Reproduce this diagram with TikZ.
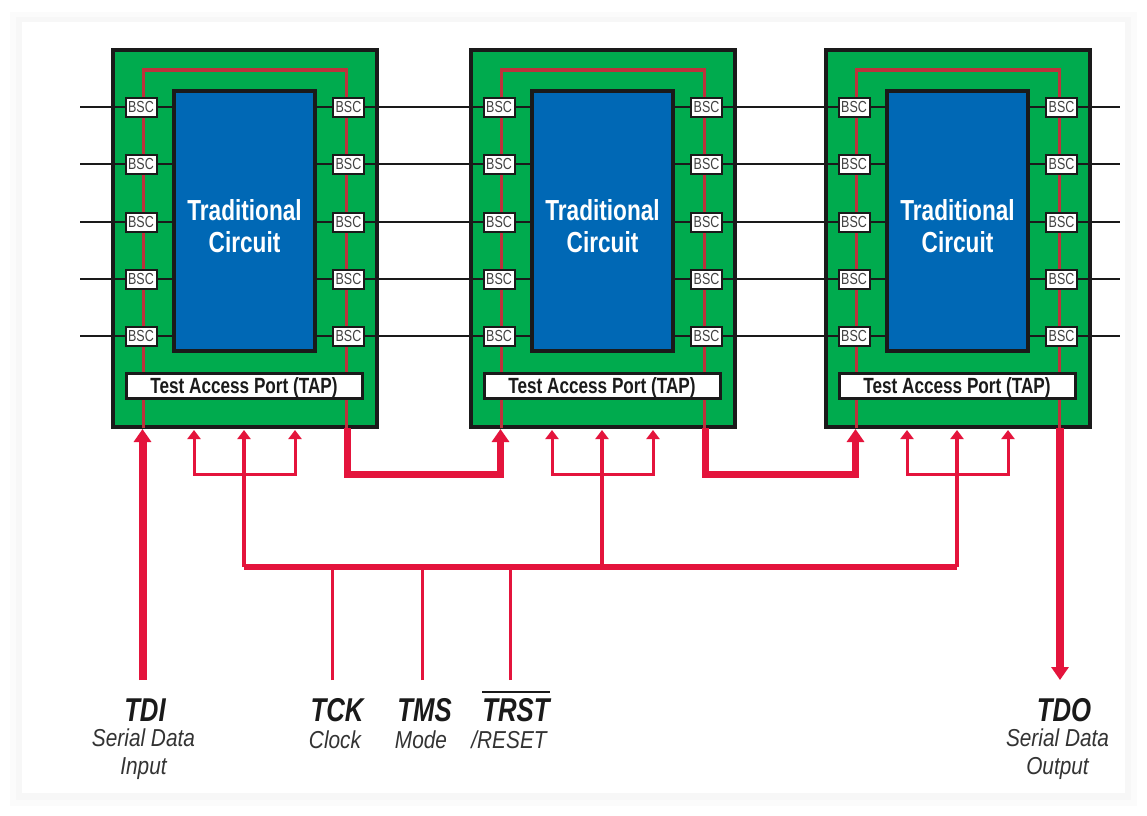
\documentclass[tikz,border=0pt]{standalone}
\usepackage{fontspec}
\setmainfont{Liberation Sans}
\newfontfamily\condfont[FakeStretch=0.78]{Liberation Sans}
\newfontfamily\notefont[FakeStretch=0.85]{Liberation Sans}
\usetikzlibrary{arrows.meta, positioning, calc}
\definecolor{chipgreen}{RGB}{0, 171, 78}
\definecolor{coreblue}{RGB}{0, 104, 181}
\definecolor{sigred}{RGB}{228, 20, 60}
\definecolor{scanred}{RGB}{190, 50, 60}
\definecolor{inkblack}{RGB}{26, 26, 26}

\begin{document}
\begin{tikzpicture}[
  x=1pt, y=-1pt,
  chipbox/.style={draw=inkblack, fill=chipgreen, line width=3.5pt, minimum width=264pt, minimum height=377pt, inner sep=0pt},
  corebox/.style={draw=inkblack, fill=coreblue, line width=3.5pt, minimum width=141pt, minimum height=260pt, inner sep=0pt},
  corelabel/.style={align=center, inner sep=0pt, text=white, font=\condfont\fontsize{29}{32}\selectfont\bfseries},
  bscbox/.style={draw=inkblack, fill=white, line width=2pt, minimum width=31pt, minimum height=19pt, inner sep=0pt, text=black!75, font=\condfont\fontsize{16}{16}\selectfont},
  tapbox/.style={draw=inkblack, fill=white, line width=3pt, minimum width=236pt, minimum height=25pt, inner sep=0pt, text height=18pt, text depth=2.2pt, text=inkblack, font=\condfont\fontsize{22}{22}\selectfont\bfseries},
  wire/.style={draw=inkblack, line width=1.4pt},
  greenwire/.style={draw=inkblack, line width=2.5pt},
  scanline/.style={draw=scanred, line width=3.5pt},
  thicksig/.style={draw=sigred, line width=7pt, -{Triangle[width=17pt,length=13pt]}},
  thinsig/.style={draw=sigred, line width=3pt},
  thintip/.style={{Triangle[width=13pt,length=9pt]}-{Triangle[width=13pt,length=9pt]}},
  onetip/.style={-{Triangle[width=13pt,length=9pt]}},
  pinname/.style={font=\condfont\fontsize{33}{34}\selectfont\bfseries\itshape, text=inkblack, inner sep=0pt},
  pinnote/.style={font=\notefont\fontsize{24.5}{27.5}\selectfont\itshape, text=black!80, align=center, inner sep=0pt}
]
  \useasboundingbox (0,0) rectangle (1147,815);
  \fill[black!1.5] (10,12) rectangle (1137,806);
  \fill[black!3] (16,17) rectangle (1131,800);
  \fill[white] (22,22) rectangle (1125,793);

  \foreach \n/\dx in {A/0, B/358, C/713} {
    \node[chipbox] (chip\n) at ({245+\dx},238.5) {};
    \coordinate (scanbl\n) at ({143.5+\dx},428);
    \coordinate (scantl\n) at ({143.5+\dx},70);
    \coordinate (scantr\n) at ({346.5+\dx},70);
    \coordinate (scanbr\n) at ({346.5+\dx},428);
    \draw[scanline] (scanbl\n) -- (scantl\n) -- (scantr\n) -- (scanbr\n);
    \node[corebox] (core\n) at ({244.5+\dx},221) {};
    \node[corelabel] (label\n) at ({244.5+\dx},226) {Traditional\\Circuit};
    \node[tapbox] (tap\n) at ({244+\dx},386) {Test Access Port (TAP)};
    \foreach \i/\y in {1/107, 2/164, 3/222, 4/279, 5/336} {
      \node[bscbox] (bscL\n\i) at ({141+\dx},\y) {BSC};
      \node[bscbox] (bscR\n\i) at ({348.5+\dx},\y) {BSC};
      \draw[greenwire] (bscL\n\i.east) -- (bscL\n\i.east -| core\n.west);
      \draw[greenwire] (bscR\n\i.west) -- (bscR\n\i.west -| core\n.east);
      \draw[greenwire] (bscL\n\i.west) -- (bscL\n\i.west -| chip\n.west);
      \draw[greenwire] (bscR\n\i.east) -- (bscR\n\i.east -| chip\n.east);
    }
    \coordinate (tdiin\n) at ({142.5+\dx},429);
    \coordinate (tmsin\n) at ({194+\dx},430);
    \coordinate (tckin\n) at ({244+\dx},430);
    \coordinate (trstin\n) at ({295+\dx},430);
    \coordinate (tdoout\n) at ({347+\dx},428);
    \coordinate (fork\n) at ({244+\dx},474);
    \coordinate (bus\n) at ({244+\dx},567);
    \draw[thinsig, thintip] (tmsin\n) |- (fork\n) -| (trstin\n);
    \draw[thinsig, line width=3.5pt, onetip] (bus\n) -- (tckin\n);
  }

  \foreach \i/\y in {1/107, 2/164, 3/222, 4/279, 5/336} {
    \coordinate (stubin\i) at (80,\y);
    \coordinate (stubout\i) at (1120,\y);
    \draw[wire] (stubin\i) -- (bscLA\i.west -| chipA.west);
    \draw[wire] (bscRA\i.east -| chipA.east) -- (bscLB\i.west -| chipB.west);
    \draw[wire] (bscRB\i.east -| chipB.east) -- (bscLC\i.west -| chipC.west);
    \draw[wire] (bscRC\i.east -| chipC.east) -- (stubout\i);
  }

  \draw[thicksig] (tdooutA) |- (tdiinB |- forkA) -- (tdiinB);
  \draw[thicksig] (tdooutB) |- (tdiinC |- forkA) -- (tdiinC);

  \coordinate (tdipin) at (142.5,680);
  \coordinate (tdopin) at (1060,680);
  \coordinate (tckpin) at (332,680);
  \coordinate (tmspin) at (422.5,680);
  \coordinate (trstpin) at (510,680);
  \draw[thicksig, line width=8pt] (tdipin) -- (tdiinA);
  \draw[thicksig, line width=8pt] (tdooutC) -- (tdopin);
  \draw[draw=sigred, line width=6.5pt] (busA) -- (busC);
  \draw[draw=sigred, line width=3pt] (tckpin) -- (tckpin |- busA);
  \draw[draw=sigred, line width=3pt] (tmspin) -- (tmspin |- busA);
  \draw[draw=sigred, line width=3pt] (trstpin) -- (trstpin |- busA);

  \node[pinname] (tdi) at (145,710) {TDI};
  \node[pinnote] (tdinote) at (143.5,754) {Serial Data\\Input};
  \node[pinname] (tck) at (337,710) {TCK};
  \node[pinnote] (tcknote) at (335,739.5) {Clock};
  \node[pinname] (tms) at (424.5,710) {TMS};
  \node[pinnote] (tmsnote) at (421,739.5) {Mode};
  \node[pinname] (trst) at (516,710) {TRST};
  \node[pinnote] (trstnote) at (509,739.5) {/RESET};
  \node[pinname] (tdo) at (1064,710) {TDO};
  \node[pinnote] (tdonote) at (1057.5,754) {Serial Data\\Output};
  \draw[line width=1.2pt, draw=inkblack] (trst.north west |- 0,692) -- (trst.north east |- 0,692);
\end{tikzpicture}
\end{document}
